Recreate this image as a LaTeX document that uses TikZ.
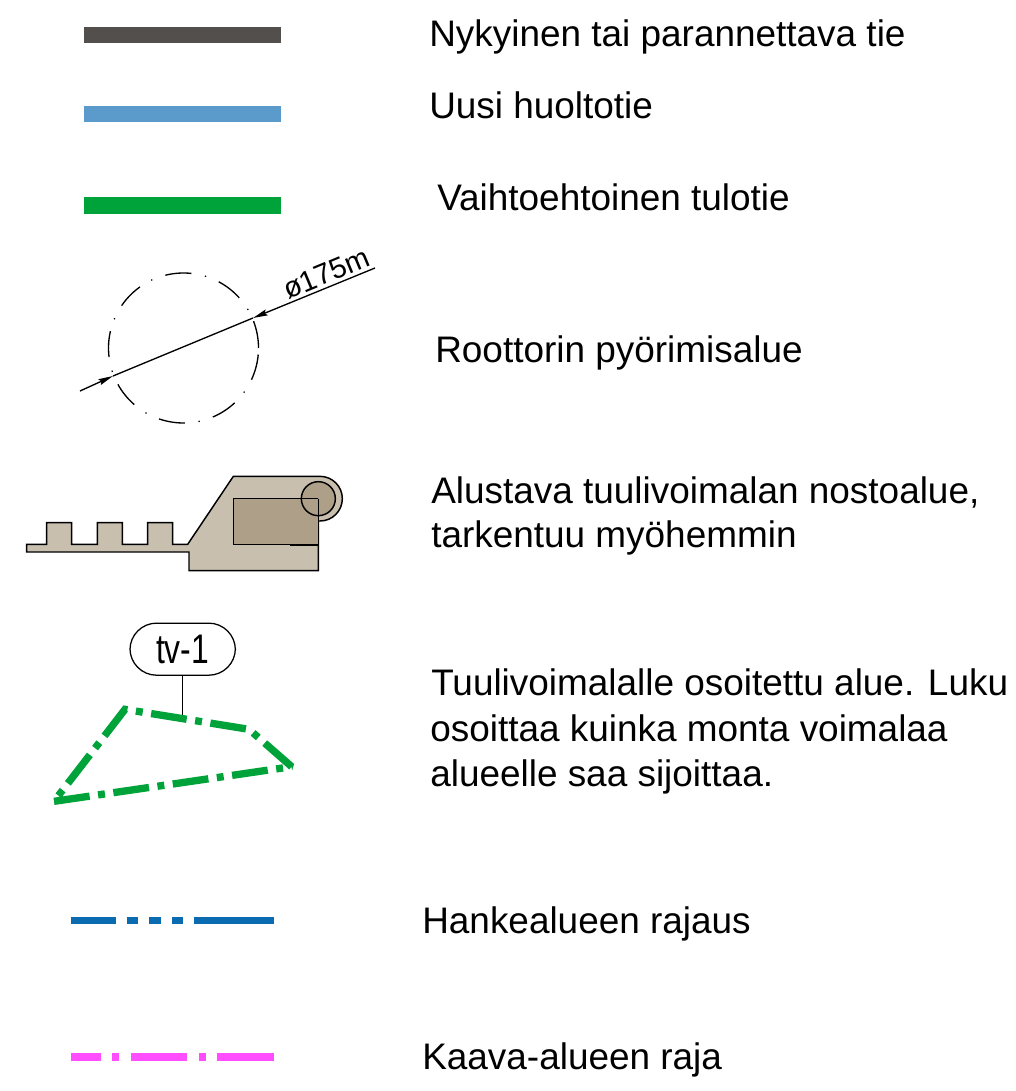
\documentclass[tikz,border=0pt]{standalone}
\usepackage{fontspec}
\setmainfont{Liberation Sans}
\usetikzlibrary{arrows.meta}
\definecolor{roadgrey}{HTML}{534F4C}
\definecolor{roadblue}{HTML}{5B9BCB}
\definecolor{roadgreen}{HTML}{00A33A}
\definecolor{borderblue}{HTML}{0A6BB0}
\definecolor{borderpink}{HTML}{FF4DFF}
\definecolor{padlight}{HTML}{C8BFAF}
\definecolor{paddark}{HTML}{AD9F88}
\tikzset{
  legendtext/.style={anchor=base west,inner sep=0pt,font=\fontsize{27.7pt}{32pt}\selectfont},
  swatch/.style={line width=12.6pt},
  padline/.style={draw=black,line width=1.1pt,line join=miter},
  rotorline/.style={black,line width=1pt},
  dimtip/.style={-{Stealth[length=11pt,width=4.6pt,inset=1.5pt]},rotorline},
}
\begin{document}
\begin{tikzpicture}[x=0.75pt,y=-0.75pt]
\useasboundingbox (0,0) rectangle (1016,1091);
% road swatches
\coordinate (g1) at (84,35);\coordinate (g2) at (281,35);
\coordinate (b1) at (84,114);\coordinate (b2) at (281,114);
\coordinate (v1) at (84,205.5);\coordinate (v2) at (281,205.5);
\draw[swatch,roadgrey] (g1)--(g2);
\draw[swatch,roadblue] (b1)--(b2);
\draw[swatch,roadgreen] (v1)--(v2);
% rotor circle
\coordinate (rc) at (183.5,348);
\foreach \a/\b in {84/104,125.5/145.6,167/187,209/229,251/271,293/313,335/355,0/21,42/62}{
  \draw[rotorline] ([shift={(\a:75 and -75)}]rc) arc[start angle=-\a,end angle=-\b,radius=75];
}
\foreach \a in {115,157,198,240,282,324,73,31}{
  \fill[black] ([shift={(\a:75 and -75)}]rc) circle[radius=0.9];
}
\coordinate (d1) at (80,391);\coordinate (t1) at (113,376);
\coordinate (d2) at (375,268);\coordinate (t2) at (253,318);
\draw[rotorline] (t1)--(t2);
\draw[dimtip] (d1)--(t1);
\draw[dimtip] (d2)--(t2);
\node[anchor=base west,inner sep=0pt,rotate=22.6,font=\fontsize{21.8pt}{24pt}\selectfont] (dia) at (288,300) {ø175m};
% crane pad
\begin{scope}[shift={(15,460)},x=0.25pt,y=-0.25pt]
\path[padline,fill=padlight] (35,253)--(95,253)--(95,188)--(170,188)--(170,253)--(247,253)--(247,188)--(322,188)--(322,253)--(398,253)--(398,188)--(473,188)--(473,253)--(518,253)--(655,49)--(915,49) arc[start angle=-90,end angle=90,radius=67]--(910,183)--(910,332)--(522,332)--(522,276)--(35,276)--cycle;
\path[padline,fill=paddark] (655,116) rectangle (910,253);
\path[padline,fill=paddark] (910,116) circle[radius=51];
\draw[black,line width=1.1pt] (910,116)--(910,253);
\draw[black,line width=1.1pt] (655,116)--(910,116);
\draw[black,line width=1.5pt] (826,254)--(910,254);
\end{scope}
% tv-1 area
\begin{scope}[shift={(40,610)},x=0.25pt,y=-0.25pt]
\node[draw=black,line width=0.95pt,rounded corners=20pt,minimum width=80pt-0.95pt,minimum height=40pt-0.95pt,inner sep=0pt,anchor=center,font=\fontsize{31pt}{34pt}\selectfont] (tv) at (428,117.5) {\scalebox{0.77}[1]{tv-1}};
\coordinate (tvend) at (428,318);
\draw[black,line width=0.95pt] (tv.south)--(tvend);
\coordinate (pd) at (42,574);\coordinate (pc) at (755,470);\coordinate (pb) at (627,358);\coordinate (pa) at (255,298);
\draw[roadgreen,line width=5.5pt,dash pattern=on 27pt off 6.4pt on 5.2pt off 6.4pt,line join=miter,miter limit=2.3] (pd)--(pc)--(pb)--(pa)--cycle;
\end{scope}
% border lines
\coordinate (h1) at (70.5,920.5);\coordinate (h2) at (274,920.5);
\draw[borderblue,line width=5.8pt,dash pattern=on 34pt off 8.2pt on 8.7pt off 8.2pt on 8.8pt off 8.2pt on 8.6pt off 8.2pt on 59.5pt off 50pt] (h1)--(h2);
\coordinate (k1) at (70.5,1056.5);\coordinate (k2) at (274,1056.5);
\draw[borderpink,line width=6pt,dash pattern=on 22.7pt off 8.3pt on 5.7pt off 8.5pt on 42.5pt off 8.3pt on 5.8pt off 8.4pt on 42.5pt off 50pt] (k1)--(k2);
% labels
\node[legendtext] (l1) at (429,47) {Nykyinen tai parannettava tie};
\node[legendtext] (l2) at (429,119) {Uusi huoltotie};
\node[legendtext] (l3) at (437,210) {Vaihtoehtoinen tulotie};
\node[legendtext] (l4) at (435,362) {Roottorin pyörimisalue};
\node[legendtext] (l5) at (431,503) {Alustava tuulivoimalan nostoalue,};
\node[legendtext] (l6) at (431,547) {tarkentuu myöhemmin};
\node[legendtext] (l7) at (431,695) {Tuulivoimalalle osoitettu alue. Luku};
\node[legendtext] (l8) at (430,741) {osoittaa kuinka monta voimalaa};
\node[legendtext] (l9) at (430,786) {alueelle saa sijoittaa.};
\node[legendtext] (l10) at (422,933) {Hankealueen rajaus};
\node[legendtext] (l11) at (422,1069) {Kaava-alueen raja};
\end{tikzpicture}
\end{document}
